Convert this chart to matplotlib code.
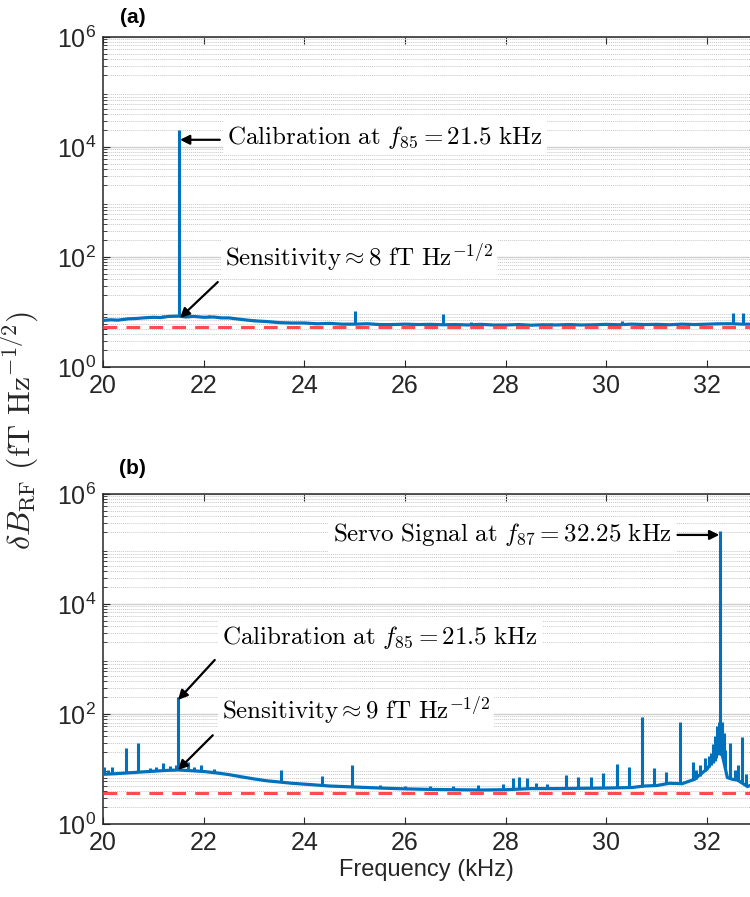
import numpy as np
import matplotlib
matplotlib.use("Agg")
import matplotlib.pyplot as plt
from matplotlib.ticker import LogLocator, NullFormatter

# colours (MATLAB-like)
BLUE = "#0072BD"
RED = "#FF4D4D"
DARK = "#262626"

plt.rcParams.update({
    "font.family": ["Liberation Sans", "DejaVu Sans"],
    "font.size": 18,
    "xtick.labelsize": 18,
    "ytick.labelsize": 18,
    "axes.labelsize": 17,
    "xtick.direction": "in",
    "ytick.direction": "in",
    "xtick.major.size": 5,
    "ytick.major.size": 5,
    "ytick.minor.size": 3,
    "xtick.major.pad": 5,
    "ytick.major.pad": 5,
    "xtick.color": DARK,
    "ytick.color": DARK,
    "axes.edgecolor": DARK,
    "axes.linewidth": 1.1,
    "lines.solid_joinstyle": "miter",
})

# ---------------- panel (a) data ----------------
a_base_f = [20.0, 20.15, 20.3, 20.5, 20.65, 20.8, 21.0, 21.15, 21.3, 21.5,
            21.65, 21.8, 22.0, 22.2, 22.35, 22.5, 22.75, 23.0, 23.25, 23.5,
            23.75, 24.0, 24.25, 24.5, 24.75, 25.0, 25.25, 25.5, 25.75, 26.0,
            26.25, 26.5, 26.75, 27.0, 27.25, 27.5, 27.75, 28.0, 28.25, 28.5,
            28.75, 29.0, 29.25, 29.5, 29.75, 30.0, 30.25, 30.5, 30.75, 31.0,
            31.25, 31.5, 31.75, 32.0, 32.25, 32.5, 32.7, 32.85]
a_base_v = [7.0, 7.2, 7.1, 7.5, 7.6, 7.8, 8.0, 7.9, 8.3, 8.4,
            8.1, 8.3, 8.0, 8.1, 7.8, 7.8, 7.3, 6.9, 6.7, 6.4,
            6.3, 6.3, 6.1, 6.2, 6.0, 6.0, 6.1, 5.9, 5.9, 6.0,
            5.9, 5.95, 5.85, 5.9, 5.8, 5.95, 5.8, 5.8, 5.9, 5.75,
            5.85, 5.8, 5.9, 5.8, 5.85, 5.95, 5.85, 6.0, 5.9, 5.95,
            5.85, 6.0, 5.9, 6.0, 6.1, 6.1, 6.0, 6.0]
a_spike_f = [20.6, 21.2, 21.5, 22.1, 23.0, 25.0, 25.6, 26.75, 27.3, 28.9,
             30.3, 31.4, 32.52, 32.72]
a_spike_lo = [7.5, 8.1, 8.4, 8.1, 6.9, 6.0, 5.9, 5.9, 5.85, 5.8,
              5.9, 5.9, 6.1, 6.1]
a_spike_hi = [8.2, 8.9, 2.0e4, 8.8, 7.4, 10.5, 6.4, 9.2, 6.5, 6.3,
              6.8, 6.4, 9.6, 9.4]
a_floor = 5.4

# ---------------- panel (b) data ----------------
b_base_f = [20.0, 20.25, 20.5, 20.75, 21.0, 21.25, 21.5, 21.75, 22.0, 22.25,
            22.5, 22.75, 23.0, 23.25, 23.5, 23.75, 24.0, 24.25, 24.5, 24.75,
            25.0, 25.25, 25.5, 26.0, 26.5, 27.0, 27.5, 28.0, 28.5, 29.0,
            29.5, 30.0, 30.5, 30.75, 31.0, 31.25, 31.5, 31.75, 31.9, 32.0,
            32.1, 32.2, 32.3, 32.4, 32.5, 32.6, 32.7, 32.8, 32.85]
b_base_v = [8.0, 8.2, 8.5, 8.8, 9.1, 9.4, 9.6, 9.3, 9.0, 8.5,
            7.9, 7.2, 6.6, 6.1, 5.8, 5.5, 5.3, 5.1, 4.9, 4.8,
            4.7, 4.6, 4.5, 4.35, 4.25, 4.2, 4.15, 4.2, 4.4, 4.4,
            4.45, 4.5, 4.6, 4.9, 5.0, 5.5, 5.4, 6.5, 8.5, 10.0,
            14.0, 20.0, 18.0, 7.0, 6.5, 6.3, 5.5, 4.8, 5.0]
b_spike_f = [20.02, 20.1, 20.18, 20.46, 20.7, 20.93, 21.05, 21.19, 21.33, 21.45,
             21.49, 21.69, 21.8, 21.94, 22.2, 23.53, 24.35, 24.94, 25.5, 26.0,
             26.5, 26.95, 27.45, 27.94, 28.14, 28.27, 28.43, 28.6, 28.82, 29.2,
             29.44, 29.69, 29.94, 30.2, 30.44, 30.7, 30.95, 31.19, 31.45, 31.71,
             31.77, 31.85, 31.95, 32.03, 32.08, 32.12, 32.15, 32.18, 32.2, 32.23,
             32.25, 32.27, 32.29, 32.31, 32.33, 32.36, 32.45, 32.55, 32.62, 32.7,
             32.78]
b_spike_lo = [8.0, 8.1, 8.2, 8.5, 8.8, 9.0, 9.1, 9.3, 9.4, 9.5,
              9.6, 9.3, 9.2, 9.0, 8.6, 5.7, 5.0, 4.7, 4.5, 4.35,
              4.3, 4.2, 4.15, 4.2, 4.25, 4.3, 4.35, 4.4, 4.4, 4.4,
              4.45, 4.45, 4.5, 4.55, 4.6, 4.8, 5.0, 5.3, 5.4, 6.2,
              6.5, 7.5, 9.0, 11.0, 12.0, 13.0, 14.0, 16.0, 18.0, 20.0,
              20.0, 19.0, 18.0, 17.0, 15.0, 10.0, 7.0, 6.4, 6.2, 5.8,
              5.0]
b_spike_hi = [11.0, 9.5, 10.9, 24.0, 30.0, 10.5, 11.0, 12.8, 11.5, 12.0,
              204.0, 13.5, 11.0, 11.8, 9.8, 9.6, 7.5, 11.8, 5.2, 5.0,
              4.9, 5.0, 5.1, 5.3, 6.9, 7.2, 6.8, 5.5, 5.3, 7.8,
              7.1, 7.1, 8.5, 12.3, 10.9, 88.0, 10.4, 8.8, 71.0, 13.4,
              9.6, 12.0, 15.8, 17.0, 19.5, 28.0, 40.0, 35.0, 60.0, 71.0,
              2.1e5, 55.0, 71.0, 38.0, 45.0, 22.0, 30.0, 9.6, 12.0, 38.0,
              8.0]
b_floor = 3.6

xticks = [20, 22, 24, 26, 28, 30, 32]
yticks = [1e0, 1e2, 1e4, 1e6]

fig = plt.figure(figsize=(7.5, 8.97), dpi=100)
ax_a = fig.add_axes([0.1373, 0.5909, 0.8627, 0.3679])
ax_b = fig.add_axes([0.1373, 0.0814, 0.8627, 0.3679])

for ax, bf, bv, sf, slo, shi, floor in [
    (ax_a, a_base_f, a_base_v, a_spike_f, a_spike_lo, a_spike_hi, a_floor),
    (ax_b, b_base_f, b_base_v, b_spike_f, b_spike_lo, b_spike_hi, b_floor),
]:
    ax.set_yscale("log")
    ax.set_xlim(20, 32.85)
    ax.set_ylim(1, 1e6)

    ax.plot(bf, bv, color=BLUE, lw=2.3, zorder=3)
    ax.vlines(sf, slo, shi, color=BLUE, lw=2.2, zorder=3)
    ax.axhline(floor, color=RED, lw=2.2, ls=(0, (4.5, 3)), zorder=4)

    ax.set_xticks(xticks)
    ax.set_yticks(yticks)
    ax.yaxis.set_minor_locator(LogLocator(base=10, subs=np.arange(2, 10), numticks=20))
    ax.yaxis.set_minor_formatter(NullFormatter())
    ax.tick_params(axis="x", top=True, bottom=True)
    ax.tick_params(axis="y", which="both", left=True, right=False)

    # grid: solid decades, dotted minors (horizontal only)
    ax.grid(True, axis="y", which="major", color="#cfcfcf", lw=1.0, ls="-", zorder=0)
    ax.grid(True, axis="y", which="minor", color="#c8c8c8", lw=0.7, ls=(0, (1, 1)), zorder=0)
    ax.set_axisbelow(True)
    ax.spines["right"].set_visible(False)

ax_b.set_xlabel("Frequency (kHz)", color=DARK, labelpad=3)

box = dict(facecolor="white", edgecolor="none", pad=3)
arrow = dict(arrowstyle="-|>", color="k", lw=1.6, mutation_scale=14, shrinkA=0, shrinkB=0)
tkw = dict(fontsize=18, math_fontfamily="cm", color="k", bbox=box, zorder=6)

# panel (a) annotations
ax_a.text(22.46, 1.5e4, r"$\mathrm{Calibration\ at\ }f_{85} = 21.5\ \mathrm{kHz}$",
          ha="left", va="center", **tkw)
ax_a.annotate("", xy=(21.53, 1.35e4), xytext=(22.32, 1.35e4), arrowprops=arrow, zorder=7)
ax_a.text(22.42, 100, r"$\mathrm{Sensitivity} \approx 8\ \mathrm{fT\ Hz}^{-1/2}$",
          ha="left", va="center", **tkw)
ax_a.annotate("", xy=(21.53, 7.8), xytext=(22.28, 35), arrowprops=arrow, zorder=7)

# panel (b) annotations
ax_b.text(31.29, 1.8e5, r"$\mathrm{Servo\ Signal\ at\ }f_{87} = 32.25\ \mathrm{kHz}$",
          ha="right", va="center", **tkw)
ax_b.annotate("", xy=(32.24, 1.8e5), xytext=(31.41, 1.8e5), arrowprops=arrow, zorder=7)
ax_b.text(22.36, 2500, r"$\mathrm{Calibration\ at\ }f_{85} = 21.5\ \mathrm{kHz}$",
          ha="left", va="center", **tkw)
ax_b.annotate("", xy=(21.49, 180), xytext=(22.22, 960), arrowprops=arrow, zorder=7)
ax_b.text(22.36, 118, r"$\mathrm{Sensitivity} \approx 9\ \mathrm{fT\ Hz}^{-1/2}$",
          ha="left", va="center", **tkw)
ax_b.annotate("", xy=(21.49, 9.6), xytext=(22.18, 41), arrowprops=arrow, zorder=7)

# panel labels and shared y label
fig.text(0.177, 0.98, "(a)", fontsize=15, fontweight="bold", ha="center", va="center")
fig.text(0.177, 0.478, "(b)", fontsize=15, fontweight="bold", ha="center", va="center")
fig.text(0.026, 0.52, r"$\delta B_{\mathrm{RF}}\ (\mathrm{fT\ Hz}^{-1/2})$",
         rotation=90, ha="center", va="center", fontsize=23, math_fontfamily="cm", color=DARK)

fig.savefig("out.png", dpi=100)
